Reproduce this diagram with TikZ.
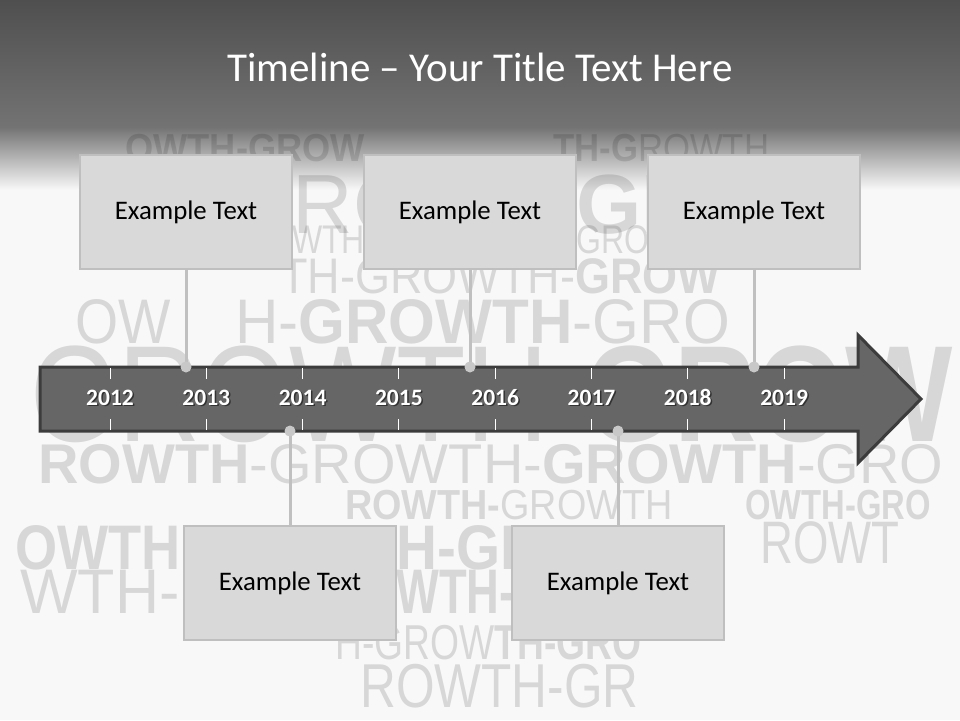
\documentclass[tikz,border=0pt]{standalone}
\usepackage{fontspec}
\usepackage{graphicx}
\setmainfont{Carlito}
\newfontfamily\wordfont{Liberation Sans}
\usetikzlibrary{positioning}

\definecolor{page}{HTML}{F8F8F8}
\definecolor{bandtop}{HTML}{4F4F4F}
\definecolor{bandbot}{HTML}{737373}
\definecolor{fadegray}{HTML}{D8D8D8}
\definecolor{boxfill}{HTML}{D9D9D9}
\definecolor{boxline}{HTML}{BFBFBF}
\definecolor{arrowfill}{HTML}{666666}
\definecolor{arrowline}{HTML}{3C3C3C}
\definecolor{linkgray}{HTML}{C0C0C0}
\definecolor{dotgray}{HTML}{C8C8C8}

\begin{document}
\begin{tikzpicture}[x=1pt,y=-1pt,line join=miter,
    box/.style={draw=boxline,line width=2pt,fill=boxfill,minimum width=212pt,
      minimum height=114pt,inner sep=0pt,font=\fontsize{26.8}{30}\selectfont},
    title/.style={text=white,font=\fontsize{41}{46}\selectfont},
    link/.style={draw=linkgray,line width=3pt},
    dot/.style={circle,fill=dotgray,minimum size=11pt,inner sep=0pt},
    year/.style={anchor=base,text=white,font=\bfseries\fontsize{23.5}{26}\selectfont},
    yearshadow/.style={anchor=base,text=black,text opacity=0.5,font=\bfseries\fontsize{23.5}{26}\selectfont},
    tick/.style={draw=white,line width=1pt},
    arrowbody/.style={fill=arrowfill,draw=arrowline,line width=3pt},
    word/.style={anchor=west,inner sep=0pt,text=black,text opacity=0.13,font=\wordfont}]

  \useasboundingbox (0,0) rectangle (960,720);

  % background and title band
  \fill[page] (0,0) rectangle (960,720);
  \shade[top color=bandtop,bottom color=bandbot] (0,0) rectangle (960,127);
  \shade[top color=bandbot,middle color=fadegray,bottom color=page] (0,127) rectangle (960,190);

  % growth lettering
  \begin{scope}
    \clip (0,128) rectangle (960,718);
    \foreach \wx/\wy/\ws/\wk/\wt [count=\k] in {
        125/148/39/0.93/{\textbf{OWTH-GROW}},
        553/148/39/0.89/{\textbf{TH-G}ROWTH},
        227/205/84/1.0/{GROW},
        576/205/84/1.0/{\textbf{GR}},
        219/240/40/0.8/{GROWTH-GROWTH},
        576/240/40/0.8/{GRO},
        280/276/50/0.9/{TH-GROWTH-\textbf{GROW}},
        75/322/63/0.88/{OW},
        235/322/63/0.955/{H-\textbf{GROWTH}-GRO},
        30/394/137/0.83/{GROWTH-\textbf{GROW}},
        38/464/56/1.0/{\textbf{ROWTH}-GROWTH-\textbf{GROWTH}-GRO},
        345/505/42/0.9/{\textbf{ROWTH-}GROWTH},
        745/505/42/0.78/{\textbf{OWTH-GRO}},
        15/548/63/0.86/{\textbf{OWTH}},
        396/548/63/0.9/{\textbf{H-GR}},
        760/543/60/0.76/{ROWT},
        20/592/63/0.97/{WTH-},
        396/592/63/0.72/{\textbf{WTH-}},
        335/643/49/0.76/{H-GROW\textbf{TH-GRO}},
        360/686/62/0.8/{ROWTH-GR}}
      \node[word] (w\k) at (\wx,\wy) {\fontsize{\ws}{\ws}\selectfont\scalebox{\wk}[1]{\wt}};
  \end{scope}

  \node[title] (T) at (480,67) {Timeline – Your Title Text Here};

  % boxes
  \node[box] (B1) at (186,212) {Example Text};
  \node[box,right=70pt of B1] (B2) {Example Text};
  \node[box,right=70pt of B2] (B3) {Example Text};
  \node[box] (B4) at (290,583) {Example Text};
  \node[box,right=114pt of B4] (B5) {Example Text};

  \coordinate (top) at (0,367);
  \coordinate (bot) at (0,431);
  \node[dot] (D1) at (B1 |- top) {};
  \node[dot] (D2) at (B2 |- top) {};
  \node[dot] (D3) at (B3 |- top) {};
  \node[dot] (D4) at (B4 |- bot) {};
  \node[dot] (D5) at (B5 |- bot) {};

  \draw[link] (B1.south) -- (D1.center);
  \draw[link] (B2.south) -- (D2.center);
  \draw[link] (B3.south) -- (D3.center);
  \draw[link] (B4.north) -- (D4.center);
  \draw[link] (B5.north) -- (D5.center);

  % timeline arrow
  \draw[arrowbody] (40,367) -- (858,367) -- (858,335) -- (921,399)
    -- (858,463) -- (858,431) -- (40,431) -- cycle;

  \foreach \yr [count=\i from 0] in {2012,...,2019} {
    \pgfmathsetmacro{\xx}{110+96.3*\i}
    \draw[tick] (\xx,368) -- ++(0,11);
    \draw[tick] (\xx,430) -- ++(0,-11);
    \node[yearshadow] (S\i) at (\xx+1.5,406.5) {\yr};
    \node[year] (Y\i) at (\xx,405) {\yr};
  }

  \foreach \n in {1,...,5}
    \node[dot] at (D\n) {};

  % redraw boxes on top of links
  \node[box] at (B1) {Example Text};
  \node[box] at (B2) {Example Text};
  \node[box] at (B3) {Example Text};
  \node[box] at (B4) {Example Text};
  \node[box] at (B5) {Example Text};
\end{tikzpicture}
\end{document}
